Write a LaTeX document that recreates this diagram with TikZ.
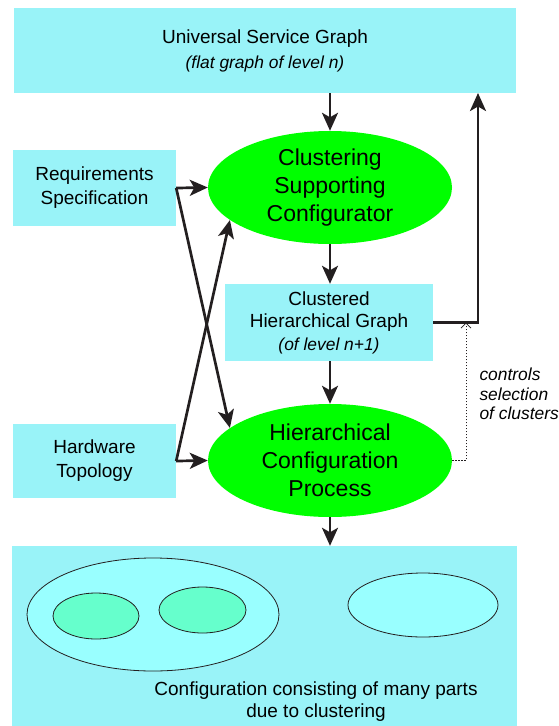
\documentclass[tikz,border=0pt]{standalone}
\usepackage{fontspec}
\setmainfont{Liberation Sans}
\usetikzlibrary{arrows.meta,shapes.geometric}
\definecolor{boxcyan}{RGB}{153,243,248}
\definecolor{procgreen}{RGB}{0,255,0}
\definecolor{partcyan}{RGB}{153,255,255}
\definecolor{partmint}{RGB}{102,255,204}
\definecolor{ink}{RGB}{35,31,32}

\begin{document}
\begin{tikzpicture}[x=1pt,y=-1pt,
  infobox/.style={rectangle, fill=boxcyan, inner sep=0pt, align=center,
    font=\fontsize{19}{24}\selectfont},
  process/.style={ellipse, fill=procgreen, inner sep=0pt, minimum width=244pt,
    minimum height=113pt, align=center, font=\fontsize{23}{28}\selectfont},
  part/.style={ellipse, draw=ink, line width=0.8pt, inner sep=0pt},
  conn/.style={draw=ink, line width=2.7pt,
    -{Stealth[length=18pt 0 0,width=16pt 0 0,inset=4.5pt 0 0]}},
  ctrl/.style={draw=ink, line width=0.8pt, dash pattern=on 1.5pt off 1.5pt,
    -{Straight Barb[length=5pt,width=10pt]}},
  note/.style={font=\fontsize{17.4}{19.5}\selectfont\itshape, align=left},
]
\useasboundingbox (0,0) rectangle (558,726);

% input and output boxes
\node[infobox, minimum width=502pt, minimum height=85pt, font=\fontsize{19}{25}\selectfont]
  (usg) at (265,50.5)
  {Universal Service Graph\\{\fontsize{17.4}{25}\selectfont\itshape (flat graph of level n)}};
\node[infobox, minimum width=163pt, minimum height=76pt] (req) at (94.5,188)
  {Requirements\\Specification};
\node[infobox, minimum width=163pt, minimum height=74pt] (hw) at (94.5,461)
  {Hardware\\Topology};
\node[infobox, minimum width=208pt, minimum height=77pt, font=\fontsize{19}{22.5}\selectfont]
  (chg) at (329,322.5)
  {Clustered\\Hierarchical Graph\\{\fontsize{17.4}{22.5}\selectfont\itshape (of level n+1)}};
\node[infobox, minimum width=505pt, minimum height=180pt] (cfg) at (264.5,636) {};

% processes
\node[process] (ccs) at (330,187.5) {Clustering\\Supporting\\Configurator};
\node[process] (hcp) at (330,460.5) {Hierarchical\\Configuration\\Process};

% parts of the resulting configuration
\node[part, fill=partcyan, minimum width=252pt, minimum height=113pt] (grp) at (153,614.5) {};
\node[part, fill=partmint, minimum width=86pt, minimum height=46pt] (pa) at (96,616) {};
\node[part, fill=partmint, minimum width=87pt, minimum height=46pt] (pb) at (202.5,610) {};
\node[part, fill=partcyan, minimum width=150pt, minimum height=64pt] (pc) at (423,605) {};
\node[font=\fontsize{19}{22}\selectfont, align=center] (cap) at (316,702)
  {Configuration consisting of many parts\\due to clustering};

\node[note, anchor=west] (sel) at (476,394) {controls\\selection\\of clusters};

% connectors
\coordinate (back) at (478,93);
\coordinate (pick) at (466,322.5);
\draw[conn] (ccs.north |- usg.south) -- (ccs.north);
\draw[conn] (ccs.south) -- (ccs.south |- chg.north);
\draw[conn] (chg.south -| hcp.north) -- (hcp.north);
\draw[conn] (hcp.south) -- (hcp.south |- cfg.north);
\draw[conn] (req.east) -- (ccs.west);
\draw[conn] (hw.east) -- (hcp.west);
\draw[conn] (req.east) -- (hcp.162);
\draw[conn] (hw.east) -- (ccs.198);
\draw[conn] (chg.east) -| (back);
\draw[ctrl] (hcp.east) -| (pick);
\end{tikzpicture}
\end{document}
